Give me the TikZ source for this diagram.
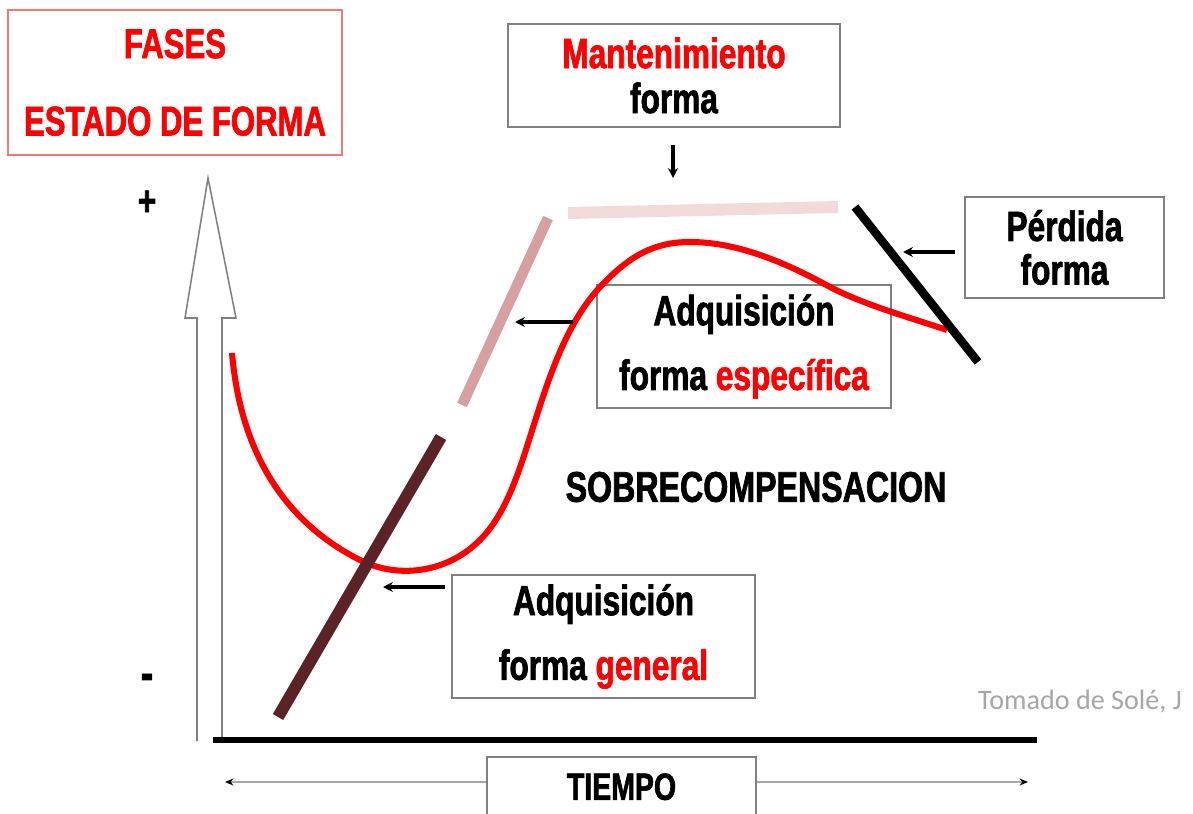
\documentclass[tikz,border=0pt]{standalone}
\usepackage{fontspec}
\newfontfamily\impact{Liberation Sans}[FakeStretch=0.75, BoldFeatures={FakeBold=1.6}]
\newfontfamily\carlito{Carlito}
\usetikzlibrary{positioning,arrows.meta}
\definecolor{boxgray}{RGB}{128,128,128}
\definecolor{titlered}{RGB}{240,120,120}
\definecolor{darkbrown}{RGB}{92,35,38}
\definecolor{rosebrown}{RGB}{214,160,160}
\definecolor{palerose}{RGB}{242,218,218}
\begin{document}
\begin{tikzpicture}[x=0.025cm,y=-0.025cm,
  box/.style={draw=boxgray, line width=1.1pt, fill=white, inner sep=0pt, align=center,
    font=\impact\bfseries\fontsize{30}{46}\selectfont},
  ptr/.style={-{Stealth[length=7pt,width=7pt]}, line width=2.3pt},
  phase/.style={line width=#1, line cap=butt}]
  \useasboundingbox (0,0) rectangle (1193,814);
  % axes
  \draw[boxgray, line width=1.1pt, fill=white] (197,741) -- (197,318) -- (185,318) -- (208,178)
    -- (236,318) -- (222,318) -- (222,741);
  \draw[line width=3.6pt] (213,740) -- (1037,740);
  \node[font=\impact\bfseries\fontsize{30}{30}\selectfont] (plus) at (147,203) {+};
  \node[font=\impact\bfseries\fontsize{36}{36}\selectfont] (minus) at (147,682) {-};
  % boxes
  \node[box, draw=titlered, text=red, minimum width=8.35cm, minimum height=3.625cm,
    font=\impact\bfseries\fontsize{29.5}{55}\selectfont] (fases) at (175,82.5) {FASES\\ESTADO DE FORMA};
  \node[box, minimum width=8.3cm, minimum height=2.575cm,
    font=\impact\bfseries\fontsize{30}{32}\selectfont] (mant) at (674,75.5) {\textcolor{red}{Mantenimiento}\\forma};
  \node[box, minimum width=4.975cm, minimum height=2.525cm,
    font=\impact\bfseries\fontsize{30}{31}\selectfont] (perd) at (1064.5,247.5) {Pérdida\\forma};
  \node[box, minimum width=7.35cm, minimum height=3.075cm] (espec) at (744,346.5)
    {Adquisición\\forma \textcolor{red}{específica}};
  \node[box, minimum width=7.575cm, minimum height=3.075cm] (gen) at (603.5,636.5)
    {Adquisición\\forma \textcolor{red}{general}};
  \node[box, minimum width=6.725cm, minimum height=2cm, text height=21pt, text depth=17pt,
    font=\impact\bfseries\fontsize{27}{30}\selectfont] (tiempo) at (621.5,797) {TIEMPO};
  % curve
  \draw[red, line width=4.3pt, line cap=butt] (232,353)
    .. controls (242,470) and (300,530) .. (360,560)
    .. controls (395,578) and (445,575) .. (480,540)
    .. controls (505,515) and (518,475) .. (530,437)
    .. controls (548,380) and (565,325) .. (600,287)
    .. controls (630,255) and (655,242) .. (690,242)
    .. controls (740,242) and (790,265) .. (830,287)
    .. controls (865,305) and (905,316) .. (947,330);
  % phases
  \draw[darkbrown, phase=8.5pt] (278,717) -- (441,437);
  \draw[rosebrown, phase=7.5pt] (462,405) -- (548,218);
  \draw[palerose, phase=8.5pt] (568,213) -- (838,207);
  \draw[black, phase=6pt] (855,207) -- (978,362);
  % pointers
  \coordinate (m1) at (673,145);
  \coordinate (m2) at (673,178);
  \coordinate (e1) at (573,322);
  \coordinate (e2) at (515,322);
  \coordinate (p1) at (955,252);
  \coordinate (p2) at (903,252);
  \coordinate (g1) at (445,587);
  \coordinate (g2) at (383,587);
  \draw[ptr] (m1) -- (m2);
  \draw[ptr] (e1) -- (e2);
  \draw[ptr] (p1) -- (p2);
  \draw[ptr] (g1) -- (g2);
  \coordinate (tl) at (225,782);
  \coordinate (tr) at (1028,782);
  \draw[boxgray!70, line width=0.9pt, {Stealth[black,length=6pt,width=5pt]}-] (tl) -- (tl -| tiempo.west);
  \draw[boxgray!70, line width=0.9pt, -{Stealth[black,length=6pt,width=5pt]}] (tr -| tiempo.east) -- (tr);
  % texts
  \node[font=\impact\bfseries\fontsize{30.5}{33}\selectfont] (sobre) at (756,487) {SOBRECOMPENSACION};
  \node[font=\carlito\fontsize{20}{20}\selectfont, text=gray!70] (tomado) at (1080,702) {Tomado de Solé, J};
\end{tikzpicture}
\end{document}
